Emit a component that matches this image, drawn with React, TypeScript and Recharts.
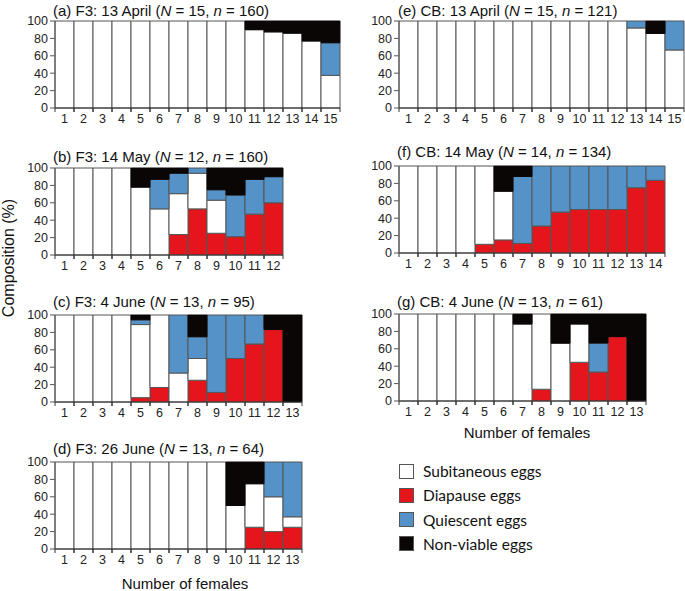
import React from "react";
import { BarChart, Bar, XAxis, YAxis } from "recharts";

// Percent composition per female: [diapause, subitaneous, quiescent, nonviable]
const panelA_F3_13Apr: number[][] = [
  [0, 100, 0, 0], [0, 100, 0, 0], [0, 100, 0, 0], [0, 100, 0, 0], [0, 100, 0, 0],
  [0, 100, 0, 0], [0, 100, 0, 0], [0, 100, 0, 0], [0, 100, 0, 0], [0, 100, 0, 0],
  [0, 90, 0, 10], [0, 87.5, 0, 12.5], [0, 86, 0, 14], [0, 77, 0, 23], [0, 37.5, 37.5, 25],
];
const panelB_F3_14May: number[][] = [
  [0, 100, 0, 0], [0, 100, 0, 0], [0, 100, 0, 0], [0, 100, 0, 0],
  [0, 78, 0, 22], [0, 53, 34, 13], [23.5, 47, 23.5, 6], [53, 41, 6, 0],
  [25, 38, 12, 25], [21, 0, 48, 31], [47, 0, 40, 13], [60, 0, 30, 10],
];
const panelC_F3_4Jun: number[][] = [
  [0, 100, 0, 0], [0, 100, 0, 0], [0, 100, 0, 0], [0, 100, 0, 0],
  [5, 84, 5.5, 5.5], [16.7, 83.3, 0, 0], [0, 33.3, 66.7, 0], [25, 25, 25, 25],
  [11, 0, 89, 0], [50, 0, 50, 0], [66.7, 0, 33.3, 0], [83.3, 0, 0, 16.7], [0, 0, 0, 100],
];
const panelD_F3_26Jun: number[][] = [
  [0, 100, 0, 0], [0, 100, 0, 0], [0, 100, 0, 0], [0, 100, 0, 0], [0, 100, 0, 0],
  [0, 100, 0, 0], [0, 100, 0, 0], [0, 100, 0, 0], [0, 100, 0, 0],
  [0, 50, 0, 50], [25, 50, 0, 25], [20, 40, 40, 0], [25, 12, 63, 0],
];
const panelE_CB_13Apr: number[][] = [
  [0, 100, 0, 0], [0, 100, 0, 0], [0, 100, 0, 0], [0, 100, 0, 0], [0, 100, 0, 0],
  [0, 100, 0, 0], [0, 100, 0, 0], [0, 100, 0, 0], [0, 100, 0, 0], [0, 100, 0, 0],
  [0, 100, 0, 0], [0, 100, 0, 0], [0, 92, 8, 0], [0, 85.7, 0, 14.3], [0, 66.7, 33.3, 0],
];
const panelF_CB_14May: number[][] = [
  [0, 100, 0, 0], [0, 100, 0, 0], [0, 100, 0, 0], [0, 100, 0, 0],
  [10, 90, 0, 0], [15, 56, 0, 29], [11, 0, 77, 12], [31, 0, 69, 0],
  [47, 0, 53, 0], [50, 0, 50, 0], [50, 0, 50, 0], [50, 0, 50, 0], [75, 0, 25, 0], [83.5, 0, 16.5, 0],
];
const panelG_CB_4Jun: number[][] = [
  [0, 100, 0, 0], [0, 100, 0, 0], [0, 100, 0, 0], [0, 100, 0, 0], [0, 100, 0, 0], [0, 100, 0, 0],
  [0, 88.5, 0, 11.5], [13.5, 86.5, 0, 0], [0, 66.5, 0, 33.5], [44.5, 44, 0, 11.5],
  [33.3, 0, 33.3, 33.4], [74, 0, 0, 26], [0, 0, 0, 100],
];

const seriesKeys = ["diapause", "subitaneous", "quiescent", "nonviable"];
const seriesNames = ["Diapause eggs", "Subitaneous eggs", "Quiescent eggs", "Non-viable eggs"];
const seriesColors = ["#e5151c", "#ffffff", "#5592c8", "#0a0606"];
const yTicks = [0, 20, 40, 60, 80, 100];
const legendOrder = [1, 0, 2, 3];

const toRows = (rows: number[][]) =>
  rows.map((r, i) => {
    const o: Record<string, number | string> = { female: String(i + 1) };
    seriesKeys.forEach((k, j) => (o[k] = r[j]));
    return o;
  });

const FONT = "'Liberation Sans', Arial, sans-serif";
const YW = 36;
const MT = 6;
const MR = 2;
const XH = 22;
const PLOT_H = 87;
const STEP = 19;

function Title({ x, y, tag, date, N, n }: any) {
  return (
    <div
      style={{
        position: "absolute",
        left: x,
        top: y,
        fontFamily: FONT,
        fontSize: 15,
        lineHeight: "16px",
        color: "#111",
        whiteSpace: "nowrap",
      }}
    >
      {tag}: {date} (<i>N</i> = {N}, <i>n</i> = {n})
    </div>
  );
}

function Panel({ rows, left, top }: { rows: number[][]; left: number; top: number }) {
  const data = toRows(rows);
  const plotW = rows.length * STEP;
  const XTick = (p: any) => {
    const { x, y, payload } = p;
    const ay = y - 6;
    return (
      <g>
        <line x1={x - STEP / 2} x2={x - STEP / 2} y1={ay} y2={ay + 4} stroke="#333" />
        <line x1={x + STEP / 2} x2={x + STEP / 2} y1={ay} y2={ay + 4} stroke="#333" />
        <text x={x} y={y} dy="0.75em" textAnchor="middle" fontSize={12.5} fontFamily={FONT} fill="#222">
          {payload.value}
        </text>
      </g>
    );
  };
  return (
    <div style={{ position: "absolute", left: left - YW, top: top - MT }}>
      <BarChart
        width={YW + plotW + MR}
        height={MT + PLOT_H + XH}
        data={data}
        margin={{ top: MT, right: MR, left: 0, bottom: 0 }}
        barCategoryGap={0}
        barGap={0}
      >
        <XAxis
          dataKey="female"
          interval={0}
          height={XH}
          tickLine={false}
          tickSize={4}
          tickMargin={2}
          axisLine={{ stroke: "#333" }}
          tick={<XTick />}
        />
        <YAxis
          width={YW}
          domain={[0, 100]}
          ticks={yTicks}
          interval={0}
          tickSize={5}
          tickMargin={2}
          axisLine={{ stroke: "#555" }}
          tickLine={{ stroke: "#555" }}
          tick={{ fontSize: 12.5, fontFamily: FONT, fill: "#222" }}
        />
        {seriesKeys.map((k, i) => (
          <Bar
            key={k}
            dataKey={k}
            name={seriesNames[i]}
            stackId="s"
            fill={seriesColors[i]}
            stroke={i === 3 ? "#0a0606" : "#555"}
            strokeWidth={1}
            isAnimationActive={false}
          />
        ))}
      </BarChart>
    </div>
  );
}

export default function App() {
  return (
    <div
      style={{
        position: "absolute",
        left: 0,
        top: 0,
        width: 685,
        height: 591,
        background: "#fff",
        overflow: "hidden",
      }}
    >
      <Title x={53} y={3} tag="(a) F3" date="13 April" N={15} n={160} />
      <Panel rows={panelA_F3_13Apr} left={55} top={21} />
      <Title x={53} y={149} tag="(b) F3" date="14 May" N={12} n={160} />
      <Panel rows={panelB_F3_14May} left={55} top={168} />
      <Title x={53} y={294} tag="(c) F3" date="4 June" N={13} n={95} />
      <Panel rows={panelC_F3_4Jun} left={55} top={315} />
      <Title x={53} y={441} tag="(d) F3" date="26 June" N={13} n={64} />
      <Panel rows={panelD_F3_26Jun} left={55} top={462} />

      <Title x={398} y={3} tag="(e) CB" date="13 April" N={15} n={121} />
      <Panel rows={panelE_CB_13Apr} left={399} top={21} />
      <Title x={397} y={144} tag="(f) CB" date="14 May" N={14} n={134} />
      <Panel rows={panelF_CB_14May} left={399} top={166} />
      <Title x={397} y={294} tag="(g) CB" date="4 June" N={13} n={61} />
      <Panel rows={panelG_CB_4Jun} left={399} top={314} />

      <div
        style={{
          position: "absolute",
          left: 9 - 80,
          top: 258 - 10,
          width: 160,
          height: 20,
          lineHeight: "20px",
          textAlign: "center",
          transform: "rotate(-90deg)",
          fontFamily: FONT,
          fontSize: 16,
          color: "#111",
        }}
      >
        Composition (%)
      </div>
      <div
        style={{
          position: "absolute",
          left: 185 - 90,
          top: 575,
          width: 180,
          textAlign: "center",
          fontFamily: FONT,
          fontSize: 15,
          lineHeight: "18px",
          color: "#111",
        }}
      >
        Number of females
      </div>
      <div
        style={{
          position: "absolute",
          left: 527 - 90,
          top: 424,
          width: 180,
          textAlign: "center",
          fontFamily: FONT,
          fontSize: 15,
          lineHeight: "18px",
          color: "#111",
        }}
      >
        Number of females
      </div>

      {legendOrder.map((si, i) => (
        <div
          key={si}
          style={{
            position: "absolute",
            left: 399,
            top: 463 + i * 24.3,
            height: 16,
            display: "flex",
            alignItems: "center",
            fontFamily: "Lato, 'Open Sans', sans-serif",
            fontSize: 15.5,
            color: "#111",
            whiteSpace: "nowrap",
          }}
        >
          <span
            style={{
              display: "inline-block",
              width: 13,
              height: 13,
              background: seriesColors[si],
              border: "1px solid #555",
              marginRight: 9,
            }}
          />
          <span>{seriesNames[si]}</span>
        </div>
      ))}
    </div>
  );
}
